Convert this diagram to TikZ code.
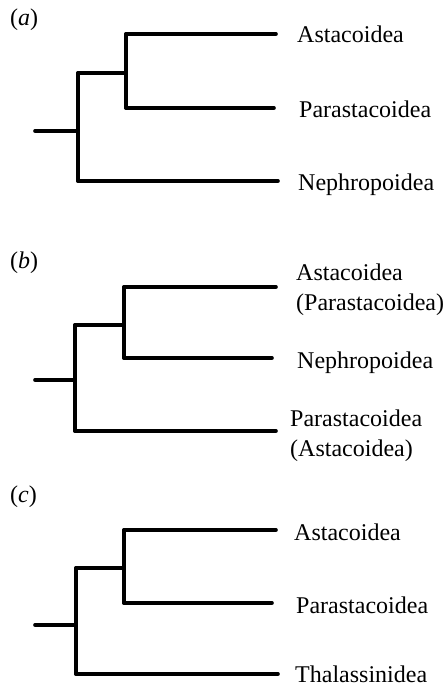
\documentclass[tikz,border=0pt]{standalone}
\usepackage{fontspec}
\setmainfont{Liberation Serif}
\begin{document}
\begin{tikzpicture}[x=1pt,y=-1pt,
  branch/.style={line width=3.6pt,line cap=round,line join=round},
  taxon/.style={anchor=base west,inner sep=0pt,font=\fontsize{24}{28}\selectfont},
  panel/.style={anchor=base west,inner sep=0pt,font=\fontsize{24}{28}\selectfont}]
\useasboundingbox (0,0) rectangle (446,687);
% ---------- (a)
\node[panel] (la) at (10,26) {(\textit{a})};
\coordinate (aR) at (35,131);
\coordinate (aO) at (78,131);
\coordinate (aOt) at (78,73);
\coordinate (aOb) at (78,181);
\coordinate (aI) at (126,73);
\coordinate (aIt) at (126,34);
\coordinate (aIb) at (126,108);
\coordinate (aT1) at (276,34);
\coordinate (aT2) at (274,108);
\coordinate (aT3) at (278,181);
\draw[branch] (aR) -- (aO);
\draw[branch] (aOt) -- (aOb);
\draw[branch] (aOt) -- (aI);
\draw[branch] (aIt) -- (aIb);
\draw[branch] (aIt) -- (aT1);
\draw[branch] (aIb) -- (aT2);
\draw[branch] (aOb) -- (aT3);
\node[taxon] (a1) at (297,43) {Astacoidea};
\node[taxon] (a2) at (299,118) {Parastacoidea};
\node[taxon] (a3) at (298,190) {Nephropoidea};
% ---------- (b)
\node[panel] (lb) at (10,268) {(\textit{b})};
\coordinate (bR) at (35,380);
\coordinate (bO) at (75,380);
\coordinate (bOt) at (75,325);
\coordinate (bOb) at (75,431);
\coordinate (bI) at (124,325);
\coordinate (bIt) at (124,287);
\coordinate (bIb) at (124,358);
\coordinate (bT1) at (276,287);
\coordinate (bT2) at (272,358);
\coordinate (bT3) at (276,431);
\draw[branch] (bR) -- (bO);
\draw[branch] (bOt) -- (bOb);
\draw[branch] (bOt) -- (bI);
\draw[branch] (bIt) -- (bIb);
\draw[branch] (bIt) -- (bT1);
\draw[branch] (bIb) -- (bT2);
\draw[branch] (bOb) -- (bT3);
\node[taxon] (b1) at (296,280) {Astacoidea};
\node[taxon] (b1b) at (296,310) {(Parastacoidea)};
\node[taxon] (b2) at (297,368) {Nephropoidea};
\node[taxon] (b3) at (290,426) {Parastacoidea};
\node[taxon] (b3b) at (290,456) {(Astacoidea)};
% ---------- (c)
\node[panel] (lc) at (10,502) {(\textit{c})};
\coordinate (cR) at (35,625);
\coordinate (cO) at (76,625);
\coordinate (cOt) at (76,568);
\coordinate (cOb) at (76,674);
\coordinate (cI) at (124,568);
\coordinate (cIt) at (124,530);
\coordinate (cIb) at (124,603);
\coordinate (cT1) at (276,530);
\coordinate (cT2) at (272,603);
\coordinate (cT3) at (278,674);
\draw[branch] (cR) -- (cO);
\draw[branch] (cOt) -- (cOb);
\draw[branch] (cOt) -- (cI);
\draw[branch] (cIt) -- (cIb);
\draw[branch] (cIt) -- (cT1);
\draw[branch] (cIb) -- (cT2);
\draw[branch] (cOb) -- (cT3);
\node[taxon] (c1) at (294,540) {Astacoidea};
\node[taxon] (c2) at (296,613) {Parastacoidea};
\node[taxon] (c3) at (295,682) {Thalassinidea};
\end{tikzpicture}
\end{document}
